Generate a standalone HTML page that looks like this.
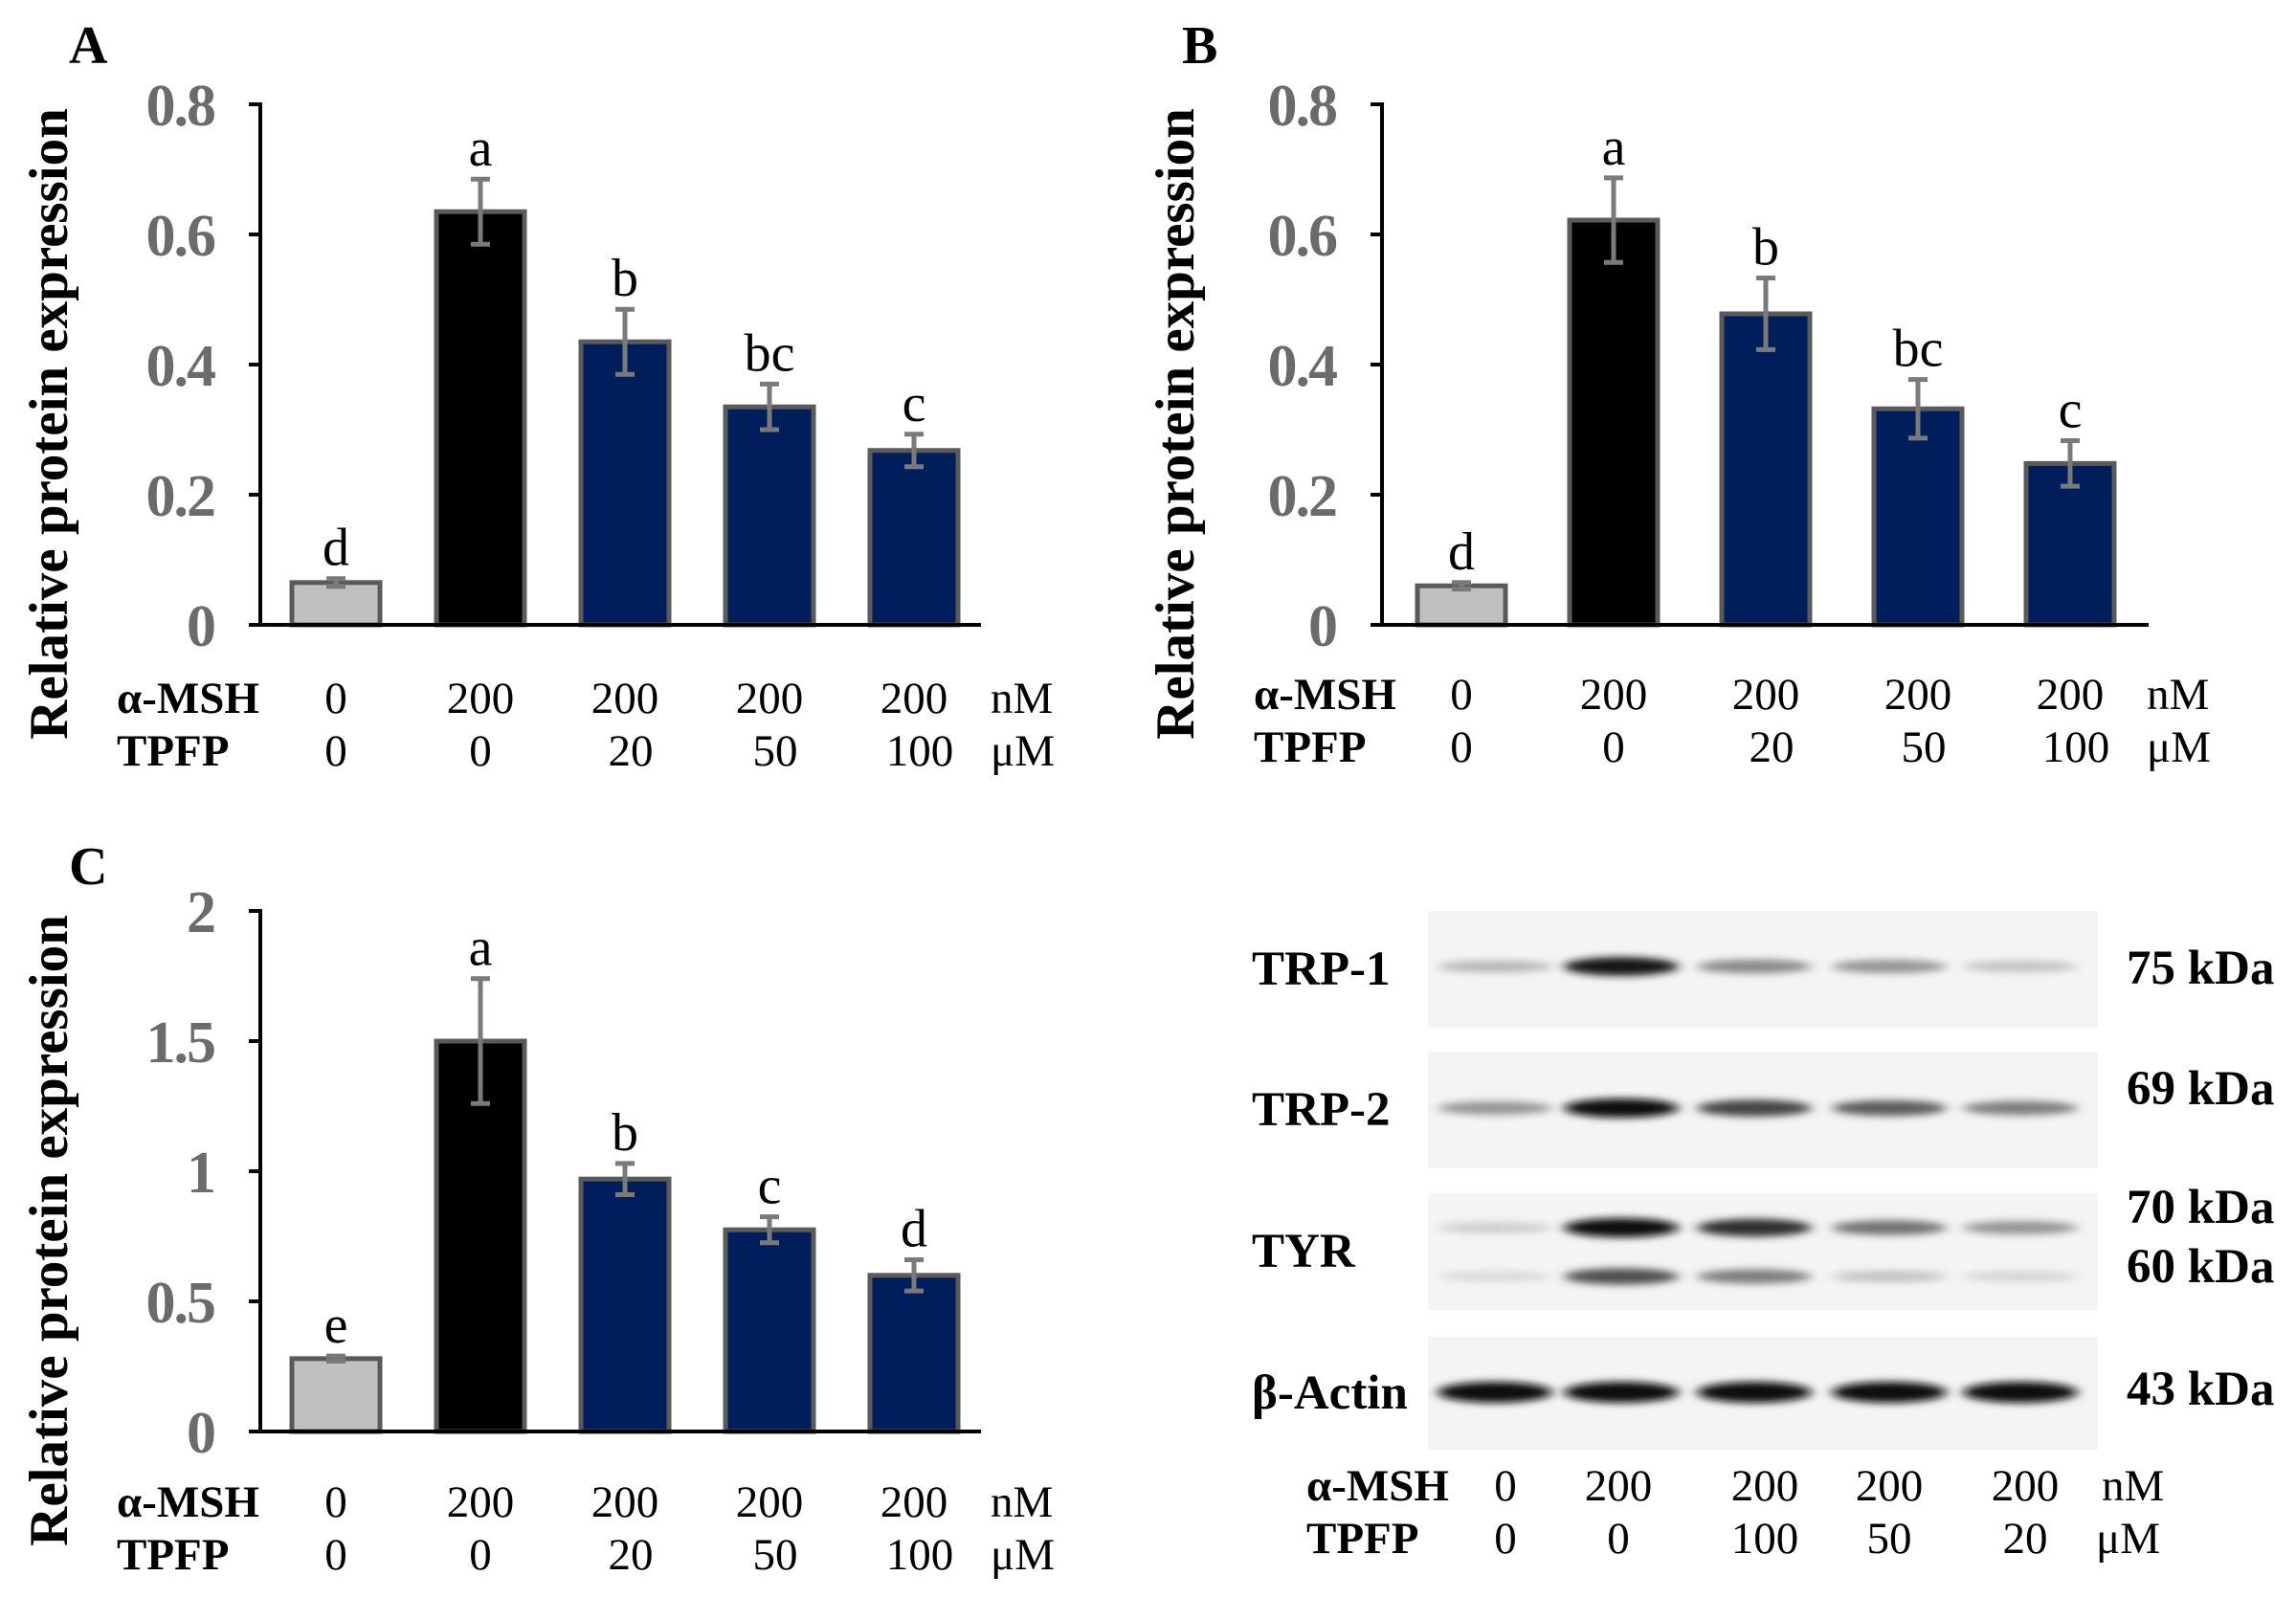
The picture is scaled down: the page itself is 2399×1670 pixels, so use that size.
<!DOCTYPE html>
<html><head><meta charset="utf-8"><style>
html,body{margin:0;padding:0;background:#fff;}
svg{display:block;}
text{font-family:"Liberation Serif",serif;}
.tick{font-size:62px;font-weight:bold;fill:#6b6b6b;letter-spacing:-2px;}
.lab{font-size:47px;fill:#000;}
.labb{font-size:47px;fill:#000;font-weight:bold;}
.ytitle{font-size:57px;font-weight:bold;fill:#000;}
.sig{font-size:56px;fill:#000;}
.pl{font-size:56px;font-weight:bold;fill:#000;}
.kda{font-size:51px;font-weight:bold;fill:#000;}
</style></head><body>
<svg id="fig" width="2399" height="1670" viewBox="0 0 2399 1670" xmlns="http://www.w3.org/2000/svg">
<defs>
<filter id="blur" x="-20%" y="-200%" width="140%" height="500%"><feGaussianBlur stdDeviation="6 4"/></filter>
</defs>
<g id="charts"></g>
<g id="blot"></g>
</svg>
<script>
const categories = ["ctrl","msh","tpfp20","tpfp50","tpfp100"];
const mshLabels = ["0","200","200","200","200"];
const tpfpLabels = ["0","0","20","50","100"];
const valuesA = [0.065,0.635,0.435,0.335,0.268];
const errorsA = [0.006,0.05,0.05,0.035,0.025];
const sigA = ["d","a","b","bc","c"];
const valuesB = [0.06,0.622,0.478,0.332,0.248];
const errorsB = [0.005,0.065,0.055,0.045,0.035];
const sigB = ["d","a","b","bc","c"];
const valuesC = [0.28,1.5,0.97,0.775,0.6];
const errorsC = [0.01,0.24,0.06,0.05,0.06];
const sigC = ["e","a","b","c","d"];
const ticksAB = ["0","0.2","0.4","0.6","0.8"];
const ticksC = ["0","0.5","1","1.5","2"];

const NS="http://www.w3.org/2000/svg";
const root=document.getElementById('charts');
const fills=["#c0c0c0","#000000","#001e5c","#001e5c","#001e5c"];
function mk(tag,attrs,parent,txt){const e=document.createElementNS(NS,tag);for(const k in attrs)e.setAttribute(k,attrs[k]);if(txt!==undefined)e.textContent=txt;parent.appendChild(e);return e;}

function chart(cfg){
  const g=mk('g',{},root);
  
  
  const ticks=cfg.ticks.map(Number);
  const ymax=ticks[ticks.length-1];
  const y=v=>cfg.y0-(v/ymax)*(cfg.y0-cfg.ytop);
  const x=i=>cfg.x0+cfg.first+i*cfg.step;
  const pl=mk('text',{x:cfg.letterX,y:cfg.letterY,class:'pl'},g,cfg.letter);
  
  
  const yt=mk('text',{x:0,y:0,class:'ytitle','text-anchor':'middle',transform:`translate(${cfg.titleX},${(cfg.y0+cfg.ytop)/2+62}) rotate(-90)`},g,'Relative protein expression');
  
  
  cfg.ticks.forEach((t,i)=>{
    const v=ticks[i];
    const tl=mk('text',{x:cfg.x0-48,y:y(v)+22,class:'tick','text-anchor':'end'},g,t);
    
    
    mk('line',{x1:cfg.x0-12,x2:cfg.x0,y1:y(v),y2:y(v),stroke:'#000','stroke-width':4},g);
  });
  cfg.values.forEach((v,i)=>{
    const bw=92;
    const r=mk('rect',{x:x(i)-bw/2,y:y(v),width:bw,height:cfg.y0-y(v),fill:fills[i],stroke:'#5a5a5a','stroke-width':5},g);
    
    
    const e=cfg.errors[i];
    const eb=mk('g',{stroke:'#7a7a7a','stroke-width':5},g);
    
    
    mk('line',{x1:x(i),x2:x(i),y1:y(v+e),y2:y(v-e)},eb);
    mk('line',{x1:x(i)-10,x2:x(i)+10,y1:y(v+e),y2:y(v+e)},eb);
    mk('line',{x1:x(i)-10,x2:x(i)+10,y1:y(v-e),y2:y(v-e)},eb);
    const s=mk('text',{x:x(i),y:y(v+e)-14,class:'sig','text-anchor':'middle'},g,cfg.sig[i]);
    
    
    const m=mk('text',{x:x(i),y:cfg.row1,class:'lab','text-anchor':'middle'},g,mshLabels[i]);
    
    
    const t=mk('text',{x:x(i)+(i>=2?6:0),y:cfg.row2,class:'lab','text-anchor':'middle'},g,tpfpLabels[i]);
    
    
  });
  mk('line',{x1:cfg.x0,x2:cfg.x0,y1:cfg.ytop-2,y2:cfg.y0+2,stroke:'#000','stroke-width':4},g);
  const xa=mk('line',{x1:cfg.x0-12,x2:cfg.xend,y1:cfg.y0,y2:cfg.y0,stroke:'#000','stroke-width':4},g);
  
  
  const r1=mk('text',{x:cfg.rowLabelX,y:cfg.row1,class:'labb'},g,'α-MSH');
  
  
  const r2=mk('text',{x:cfg.rowLabelX,y:cfg.row2,class:'labb'},g,'TPFP');
  
  
  mk('text',{x:cfg.x0+cfg.first+4*cfg.step+80,y:cfg.row1,class:'lab'},g,'nM');
  mk('text',{x:cfg.x0+cfg.first+4*cfg.step+80,y:cfg.row2,class:'lab'},g,'μM');
}
chart({name:'chart-a',letter:'A',letterX:72,letterY:66,titleX:70,x0:272,xend:1025,y0:653,ytop:109,first:79,step:151,ticks:ticksAB,values:valuesA,errors:errorsA,sig:sigA,row1:745,row2:800,rowLabelX:122});
chart({name:'chart-b',letter:'B',letterX:1235,letterY:66,titleX:1247,x0:1444,xend:2245,y0:653,ytop:109,first:83,step:159,ticks:ticksAB,values:valuesB,errors:errorsB,sig:sigB,row1:741,row2:796,rowLabelX:1310});
chart({name:'chart-c',letter:'C',letterX:72,letterY:924,titleX:70,x0:272,xend:1025,y0:1496,ytop:952,first:79,step:151,ticks:ticksC,values:valuesC,errors:errorsC,sig:sigC,row1:1585,row2:1640,rowLabelX:122});

const blot=document.getElementById('blot');
const laneX=[1562,1694,1833,1974,2111];
const panels=[
 {name:'TRP-1',label:'TRP-1',y0:952,y1:1074,kda:['75 kDa'],kdaY:[1012],bandsY:[1010],dens:[[0.25,0.95,0.45,0.4,0.2]]},
 {name:'TRP-2',label:'TRP-2',y0:1099,y1:1221,kda:['69 kDa'],kdaY:[1138],bandsY:[1158],dens:[[0.4,1.0,0.75,0.65,0.5]]},
 {name:'TYR',label:'TYR',y0:1247,y1:1369,kda:['70 kDa','60 kDa'],kdaY:[1262,1324],bandsY:[1283,1334],dens:[[0.15,1.0,0.85,0.55,0.4],[0.1,0.7,0.5,0.2,0.12]]},
 {name:'beta-actin',label:'β-Actin',y0:1397,y1:1515,kda:['43 kDa'],kdaY:[1452],bandsY:[1455],dens:[[1,1,1,1,1]]}
];
panels.forEach(p=>{
  const g=mk('g',{},blot);
  
  
  mk('rect',{x:1492,y:p.y0,width:700,height:p.y1-p.y0,fill:'#f4f4f4'},g);
  p.bandsY.forEach((by,bi)=>{
    p.dens[bi].forEach((d,li)=>{
      const gv=Math.round(240-230*d);
      mk('ellipse',{cx:laneX[li],cy:by,rx:60,ry:p.name==='beta-actin'?11:(5+5*d),fill:`rgb(${gv},${gv},${gv})`,filter:'url(#blur)'},g);
    });
  });
  const l=mk('text',{x:1308,y:(p.y0+p.y1)/2+16,class:'kda'},g,p.label);
  
  
  p.kda.forEach((k,i)=>{
    const t=mk('text',{x:2222,y:p.kdaY[i]+16,class:'kda'},g,k);
    
    
  });
});
const blotMsh=["0","200","200","200","200"];
const blotTpfp=["0","0","100","50","20"];
const bl=[1573,1691,1844,1974,2116];
mk('text',{x:1365,y:1568,class:'labb'},blot,'α-MSH');
mk('text',{x:1365,y:1623,class:'labb'},blot,'TPFP');
blotMsh.forEach((t,i)=>mk('text',{x:bl[i],y:1568,class:'lab','text-anchor':'middle'},blot,t));
blotTpfp.forEach((t,i)=>mk('text',{x:bl[i],y:1623,class:'lab','text-anchor':'middle'},blot,t));
mk('text',{x:2196,y:1568,class:'lab'},blot,'nM');
mk('text',{x:2190,y:1623,class:'lab'},blot,'μM');
</script>
</body></html>
